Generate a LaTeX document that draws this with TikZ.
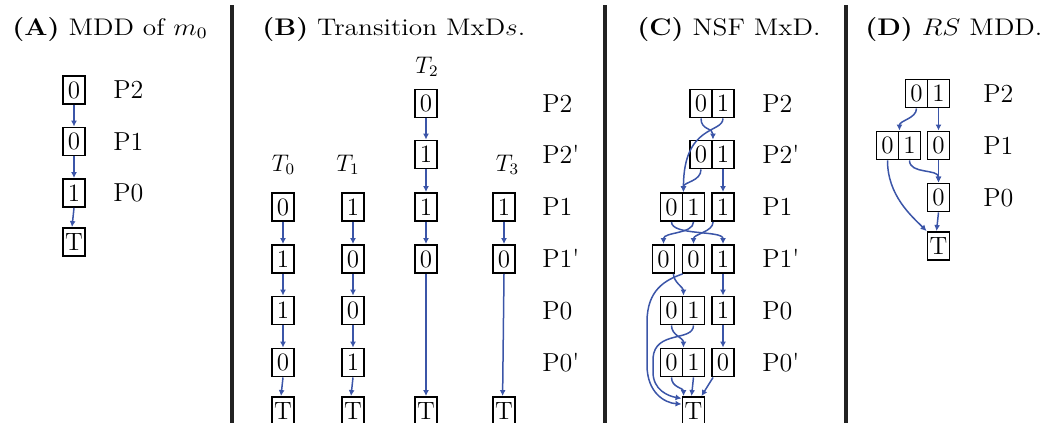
\documentclass[tikz,border=0pt]{standalone}
\usepackage{graphicx}
\usetikzlibrary{arrows.meta,calc}
\definecolor{edgeblue}{RGB}{59,85,168}
\definecolor{sepgray}{RGB}{34,34,34}
\tikzset{
  cell/.style={draw=black,line width=0.95pt,minimum width=11pt,minimum height=14pt,inner sep=0pt,text height=8pt,text depth=0pt,font=\fontsize{12.5}{14}\selectfont},
  edge/.style={draw=edgeblue,line width=0.75pt,-{Latex[length=3pt,width=3pt]}},
  lvl/.style={anchor=base west,inner sep=0pt,font=\fontsize{13}{15}\selectfont},
  tlab/.style={anchor=base,inner sep=0pt,font=\fontsize{11.5}{13}\selectfont},
  ttl/.style={anchor=base west,inner sep=0pt,font=\fontsize{12}{14}\selectfont},
  sepline/.style={draw=sepgray,line width=2.2pt},
}
\begin{document}
\begin{tikzpicture}[x=0.5pt,y=-0.5pt]
\useasboundingbox (0,0) rectangle (1055,423);
% separators
\draw[sepline] (232,5) -- (232,423);
\draw[sepline] (605,5) -- (605,423);
\draw[sepline] (846,5) -- (846,423);
% titles
\node[ttl] (tA) at (12,35) {\scalebox{1.14}[1]{\textbf{(A)} MDD of $m_0$}};
\node[ttl] (tB) at (262,35) {\scalebox{1.14}[1]{\textbf{(B)} Transition MxD$s$.}};
\node[ttl] (tC) at (637,35) {\scalebox{1.14}[1]{\textbf{(C)} NSF MxD.}};
\node[ttl] (tD) at (865,35) {\scalebox{1.14}[1]{\textbf{(D)} $RS$ MDD.}};

% ---------- Panel A ----------
\node[cell] (a2) at (74,90) {0};
\node[cell] (a1) at (74,141.5) {0};
\node[cell] (a0) at (74,193) {1};
\node[cell] (aT) at (74,242) {T};
\node[lvl] (la2) at (113,98.7) {P2};
\node[lvl] (la1) at (113,150.2) {P1};
\node[lvl] (la0) at (113,201.7) {P0};
\draw[edge] (a2) -- (a1);
\draw[edge] (a1) -- (a0);
\draw[edge] (a0.south) -- ([xshift=-1pt]aT.north);

% ---------- Panel B ----------
\node[tlab] (T0) at (283.5,171) {$T_0$};
\node[tlab] (T1) at (348,171) {$T_1$};
\node[tlab] (T2) at (427,73) {$T_2$};
\node[tlab] (T3) at (507.5,171) {$T_3$};
% T0
\node[cell] (b01) at (283,207) {0};
\node[cell] (b01p) at (283,259) {1};
\node[cell] (b00) at (283,310.5) {1};
\node[cell] (b00p) at (283,362.5) {0};
\node[cell] (b0T) at (283,411) {T};
% T1
\node[cell] (b11) at (353,207) {1};
\node[cell] (b11p) at (353,259) {0};
\node[cell] (b10) at (353,310.5) {0};
\node[cell] (b10p) at (353,362.5) {1};
\node[cell] (b1T) at (353,411) {T};
% T2
\node[cell] (b22) at (426,103.5) {0};
\node[cell] (b22p) at (426,154.5) {1};
\node[cell] (b21) at (426,207) {1};
\node[cell] (b21p) at (426,259) {0};
\node[cell] (b2T) at (426,411) {T};
% T3
\node[cell] (b31) at (504,207) {1};
\node[cell] (b31p) at (504,259) {0};
\node[cell] (b3T) at (504,411) {T};
% labels
\node[lvl] (lb2) at (542,112.2) {P2};
\node[lvl] (lb2p) at (542,163.2) {P2\textquotesingle};
\node[lvl] (lb1) at (542,215.7) {P1};
\node[lvl] (lb1p) at (542,267.7) {P1\textquotesingle};
\node[lvl] (lb0) at (542,319.2) {P0};
\node[lvl] (lb0p) at (542,371.2) {P0\textquotesingle};
% edges
\draw[edge] (b01) -- (b01p);
\draw[edge] (b01p) -- (b00);
\draw[edge] (b00) -- (b00p);
\draw[edge] (b00p.south) -- ([xshift=-1pt]b0T.north);
\draw[edge] (b11) -- (b11p);
\draw[edge] (b11p) -- (b10);
\draw[edge] (b10) -- (b10p);
\draw[edge] (b10p.south) -- ([xshift=-1pt]b1T.north);
\draw[edge] (b22) -- (b22p);
\draw[edge] (b22p) -- (b21);
\draw[edge] (b21) -- (b21p);
\draw[edge] (b21p) -- (b2T);
\draw[edge] (b31) -- (b31p);
\draw[edge] (b31p.south) -- ([xshift=-0.7pt]b3T.north);

% ---------- Panel C ----------
\node[cell] (c2a) at (701,103.5) {0};
\node[cell] (c2b) at (723,103.5) {1};
\node[cell] (c2pa) at (701,154.5) {0};
\node[cell] (c2pb) at (723,154.5) {1};
\node[cell] (c1a) at (671.5,207) {0};
\node[cell] (c1b) at (693.5,207) {1};
\node[cell] (c1c) at (723,207) {1};
\node[cell] (d1) at (663.5,259) {0};
\node[cell] (d2) at (693.5,259) {0};
\node[cell] (d3) at (723,259) {1};
\node[cell] (e1a) at (671.5,310.5) {0};
\node[cell] (e1b) at (693.5,310.5) {1};
\node[cell] (e2) at (723,310.5) {1};
\node[cell] (f1a) at (671.5,362.5) {0};
\node[cell] (f1b) at (693.5,362.5) {1};
\node[cell] (f2) at (723,362.5) {0};
\node[cell] (cT) at (693.5,411) {T};
\node[lvl] (lc2) at (762,112.2) {P2};
\node[lvl] (lc2p) at (762,163.2) {P2\textquotesingle};
\node[lvl] (lc1) at (762,215.7) {P1};
\node[lvl] (lc1p) at (762,267.7) {P1\textquotesingle};
\node[lvl] (lc0) at (762,319.2) {P0};
\node[lvl] (lc0p) at (762,371.2) {P0\textquotesingle};
\draw[edge] (c2a.south) .. controls +(0,12) and +(0,-12) .. (c2pa.north east);
\draw[edge] (c2b.south) .. controls +(0,15) and +(0,-68) .. (c1a.north east);
\draw[edge] (c2pa.south) .. controls +(0,12) and +(0,-10) .. (c1a.north east);
\draw[edge] (c2pb) -- (c1c);
\draw[edge] (c1a.south) .. controls +(0,14) and +(0,-14) .. (d3.north);
\draw[edge] (c1b.south) .. controls +(0,12) and +(0,-12) .. (d1.north);
\draw[edge] ([xshift=1pt]c1c.south west) .. controls +(0,10) and +(0,-10) .. (d2.north);
\draw[edge] ([xshift=-1pt]d1.south east) .. controls +(0,8) and +(0,-8) .. (e1a.north east);
\draw[edge] ([xshift=0.5pt]d2.south west) .. controls (665,280) and (647,290) .. (647,322) -- (647,365) .. controls (647,393) and (665,403) .. ([yshift=-4pt]cT.north west);
\draw[edge] (d3) -- (e2);
\draw[edge] (e1a.south) .. controls +(0,10) and +(0,-10) .. (f1a.north east);
\draw[edge] (e1b.south) .. controls (693,342) and (655,330) .. (653,358) -- (653,372) .. controls (653,390) and (668,396) .. ([yshift=-1.2pt]cT.north west);
\draw[edge] (e2) -- (f2);
\draw[edge] (f1a.south) .. controls +(0,10) and +(0,-8) .. ([xshift=1pt]cT.north west);
\draw[edge] (f1b.south) -- ([xshift=-1pt]cT.north);
\draw[edge] ([xshift=1pt]f2.south west) -- ([xshift=-2pt]cT.north east);

% ---------- Panel D ----------
\node[cell] (g2a) at (916.5,93.5) {0};
\node[cell] (g2b) at (938.5,93.5) {1};
\node[cell] (g1a) at (887.5,145.5) {0};
\node[cell] (g1b) at (909.5,145.5) {1};
\node[cell] (g1c) at (938.5,145.5) {0};
\node[cell] (g0) at (938.5,197.5) {0};
\node[cell] (gT) at (938.5,246) {T};
\node[lvl] (ld2) at (983,102.2) {P2};
\node[lvl] (ld1) at (983,154.2) {P1};
\node[lvl] (ld0) at (983,206.2) {P0};
\draw[edge] (g2a.south) .. controls +(0,10) and +(0,-10) .. (g1a.north east);
\draw[edge] (g2b) -- (g1c);
\draw[edge] (g1a.south) .. controls +(0,35) and +(-15,-15) .. (gT.north west);
\draw[edge] (g1b.south) .. controls +(0,14) and +(0,-14) .. (g0.north);
\draw[edge] (g1c) -- (g0);
\draw[edge] (g0.south) -- ([xshift=-1pt]gT.north);
\end{tikzpicture}
\end{document}
